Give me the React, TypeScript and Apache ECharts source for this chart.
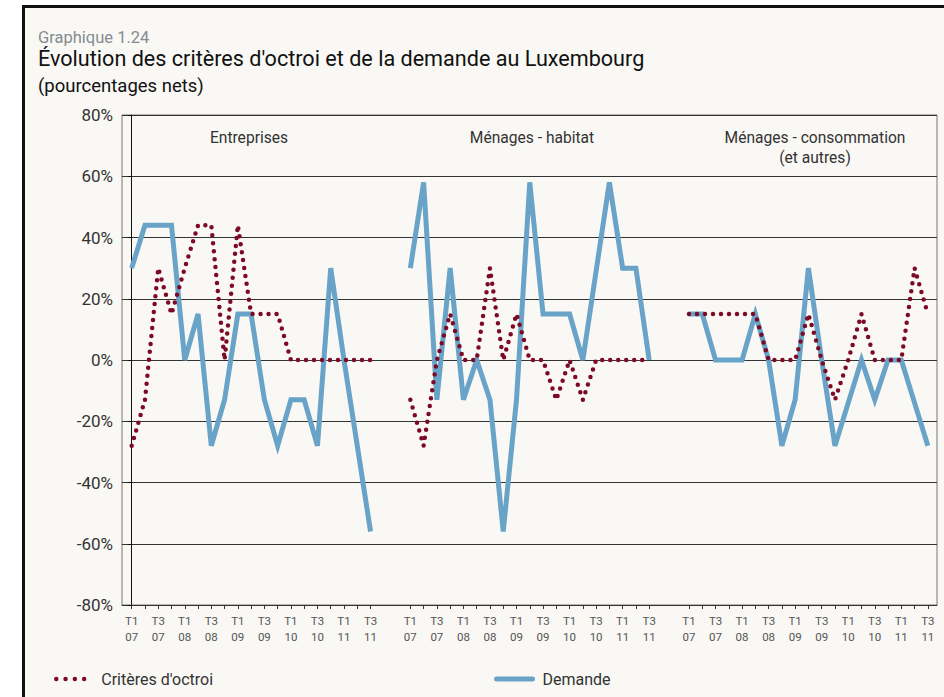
import React, { useEffect, useRef } from "react";
import * as echarts from "echarts";

// ---- data ----
const quarterLabels = [
  "T1 07", "T2 07", "T3 07", "T4 07",
  "T1 08", "T2 08", "T3 08", "T4 08",
  "T1 09", "T2 09", "T3 09", "T4 09",
  "T1 10", "T2 10", "T3 10", "T4 10",
  "T1 11", "T2 11", "T3 11",
];
const panelNames = ["Entreprises", "Ménages - habitat", "Ménages - consommation\n(et autres)"];

const critEntreprises = [-28, -13, 30, 15, 30, 44, 44, 0, 44, 15, 15, 15, 0, 0, 0, 0, 0, 0, 0];
const demEntreprises = [30, 44, 44, 44, 0, 15, -28, -13, 15, 15, -13, -28, -13, -13, -28, 30, 0, -28, -56];

const critHabitat = [-13, -28, 0, 15, 0, 0, 30, 0, 15, 0, 0, -13, 0, -13, 0, 0, 0, 0, 0];
const demHabitat = [30, 58, -13, 30, -13, 0, -13, -56, -13, 58, 15, 15, 15, 0, 29, 58, 30, 30, 0];

const critConso = [15, 15, 15, 15, 15, 15, 0, 0, 0, 15, 0, -13, 0, 15, 0, 0, 0, 30, 15];
const demConso = [15, 15, 0, 0, 0, 15, 0, -28, -13, 30, 0, -28, -14, 0, -13, 0, 0, -14, -28];

const yMin = -80;
const yMax = 80;
const yStep = 20;

const CRIT = "Critères d'octroi";
const DEM = "Demande";

// each panel holds 19 quarters, followed by 2 empty slots
const PANEL_STRIDE = quarterLabels.length + 2;

const critPanels = [critEntreprises, critHabitat, critConso];
const demPanels = [demEntreprises, demHabitat, demConso];

const RED = "#7c0a26";
const BLUE = "#69a3c7";
const FONT = "Roboto, 'DejaVu Sans', sans-serif";

export default function App() {
  const ref = useRef<HTMLDivElement | null>(null);

  useEffect(() => {
    if (!ref.current) return;
    const chart = echarts.init(ref.current, undefined, { renderer: "svg" });

    const tickIdx: number[] = [];
    const labelIdx: number[] = [];
    for (let p = 0; p < 3; p++) {
      quarterLabels.forEach((_, i) => {
        tickIdx.push(p * PANEL_STRIDE + i);
        if (i % 2 === 0) labelIdx.push(p * PANEL_STRIDE + i);
      });
    }
    const toLabel = (v: number) => {
      const i = Math.round(v) % PANEL_STRIDE;
      const s = quarterLabels[i];
      return s ? s.replace(" ", "\n") : "";
    };

    const series: any[] = [];
    for (let p = 0; p < 3; p++) {
      series.push({
        type: "line",
        name: DEM,
        data: demPanels[p].map((v, i) => [p * PANEL_STRIDE + i, v]),
        symbol: "none",
        lineStyle: { color: BLUE, width: 5, join: "miter" },
        itemStyle: { color: BLUE },
        z: 2,
      });
    }
    for (let p = 0; p < 3; p++) {
      series.push({
        type: "line",
        name: CRIT,
        data: critPanels[p].map((v, i) => [p * PANEL_STRIDE + i, v]),
        symbol: "none",
        lineStyle: { color: RED, width: 4.5, type: [0, 8], cap: "round" },
        itemStyle: { color: RED },
        z: 3,
      });
    }

    const panelCenters = [249, 532, 815];
    const hiddenSymbol = { color: "transparent", borderColor: "transparent", borderWidth: 0 };

    chart.setOption({
      animation: false,
      textStyle: { fontFamily: FONT },
      title: [
        {
          text: "Graphique 1.24",
          left: 38,
          top: 29,
          padding: 0,
          textStyle: { fontSize: 16.5, fontWeight: "normal", color: "#858b91", fontFamily: FONT },
        },
        {
          text: "Évolution des critères d'octroi et de la demande au Luxembourg",
          left: 38,
          top: 47,
          padding: 0,
          textStyle: { fontSize: 21.6, fontWeight: "normal", color: "#111", fontFamily: FONT },
        },
        {
          text: "(pourcentages nets)",
          left: 38,
          top: 76,
          padding: 0,
          textStyle: { fontSize: 18.5, fontWeight: "normal", color: "#111", fontFamily: FONT },
        },
      ],
      graphic: panelNames.map((n, p) => ({
        type: "text",
        x: panelCenters[p],
        y: 128,
        silent: true,
        style: {
          text: n,
          align: "center",
          verticalAlign: "top",
          fontSize: 15.6,
          lineHeight: 20,
          fill: "#333",
          fontFamily: FONT,
        },
      })),
      legend: [
        {
          data: [CRIT],
          left: 54,
          top: 671,
          padding: 0,
          itemWidth: 28,
          itemHeight: 14,
          itemStyle: hiddenSymbol,
          lineStyle: { width: 4.5, type: [0, 9.3], cap: "round", color: RED },
          textStyle: { fontSize: 16, color: "#333", padding: [0, 0, 0, 12], fontFamily: FONT },
        },
        {
          data: [DEM],
          left: 494,
          top: 671,
          padding: 0,
          itemWidth: 36,
          itemHeight: 14,
          itemStyle: hiddenSymbol,
          lineStyle: { width: 5, cap: "round", color: BLUE },
          textStyle: { fontSize: 16, color: "#333", padding: [0, 0, 0, 5], fontFamily: FONT },
        },
      ],
      grid: {
        left: 122,
        right: 7,
        top: 115,
        bottom: 92,
        show: true,
        borderColor: "#777",
        borderWidth: 1,
        backgroundColor: "transparent",
      },
      xAxis: {
        type: "value",
        min: -0.73,
        max: 60.69,
        axisLine: { show: true, onZero: false, lineStyle: { color: "#333", width: 1 } },
        axisTick: { show: true, customValues: tickIdx, length: 4, lineStyle: { color: "#333" } },
        axisLabel: {
          customValues: labelIdx,
          formatter: (v: number) => toLabel(v),
          fontSize: 11.5,
          lineHeight: 16,
          color: "#555",
          margin: 8,
          fontFamily: FONT,
        },
        splitLine: { show: false },
      },
      yAxis: {
        type: "value",
        min: yMin,
        max: yMax,
        interval: yStep,
        axisLine: { show: true, lineStyle: { color: "#111", width: 1 } },
        axisTick: { show: true, length: 4, lineStyle: { color: "#111" } },
        axisLabel: {
          formatter: "{value}%",
          fontSize: 17,
          color: "#333",
          margin: 9,
          fontFamily: FONT,
        },
        splitLine: { show: true, lineStyle: { color: "#333", width: 1 } },
      },
      series,
    });

    return () => chart.dispose();
  }, []);

  return (
    <div
      style={{
        position: "absolute",
        left: 0,
        top: 0,
        width: 944,
        height: 697,
        background: "#fff",
        overflow: "hidden",
      }}
    >
      <div
        style={{
          position: "absolute",
          left: 22,
          top: 5,
          width: 944,
          height: 697,
          borderLeft: "3px solid #111",
          borderTop: "3px solid #111",
          background: "#f9f8f4",
        }}
      />
      <div ref={ref} style={{ position: "absolute", left: 0, top: 0, width: 944, height: 697 }} />
    </div>
  );
}
